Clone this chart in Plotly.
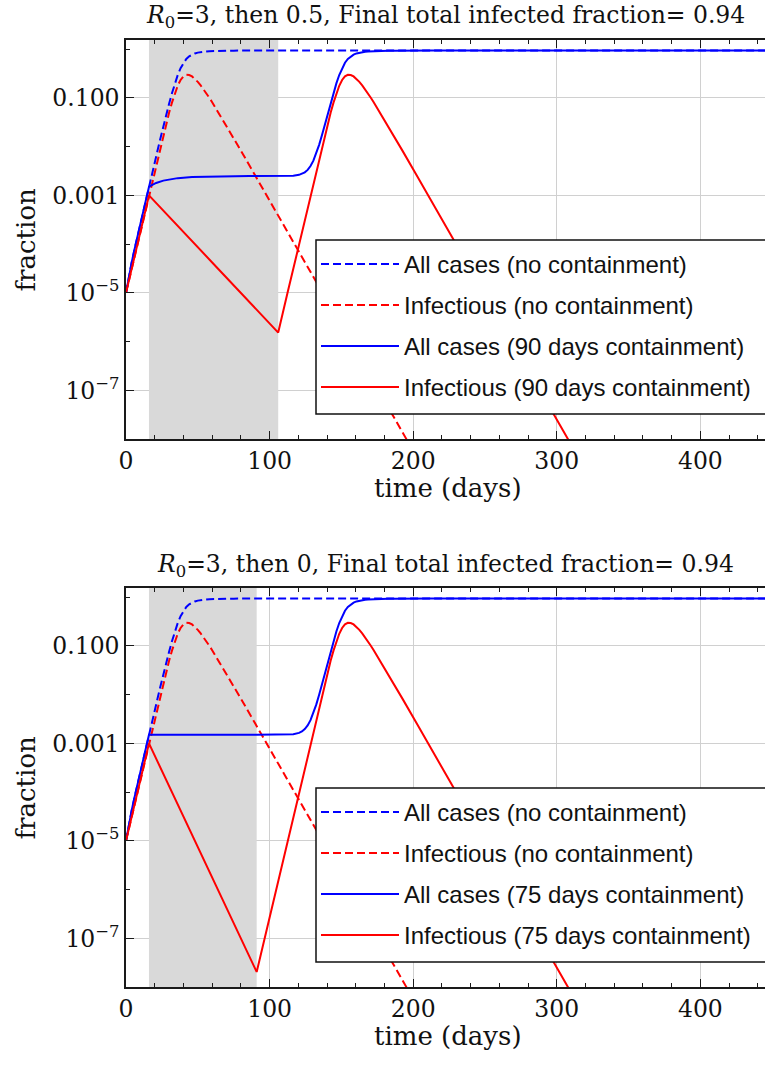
import plotly.graph_objects as go

# ---------------- data ----------------
# containment windows (days)
contain_top = [16, 106]
contain_bottom = [16, 91]

# no containment: all cases
t_cases_nc = [0, 2, 4, 6, 8, 10, 12, 14, 16, 18, 20, 22, 24, 26, 28, 30, 32, 34, 36, 38, 40,
              42, 44, 46, 48, 50, 52, 54, 56, 58, 60, 65, 70, 75, 80, 90, 100, 450]
cases_nc = [1.0e-5, 2.17e-5, 4.25e-5, 7.94e-5, 1.45e-4, 2.62e-4, 4.70e-4, 8.41e-4, 1.50e-3,
            2.67e-3, 4.75e-3, 8.43e-3, 0.0149, 0.0264, 0.0463, 0.0760, 0.1246, 0.1967, 0.2941,
            0.4099, 0.5282, 0.6329, 0.7158, 0.7773, 0.8215, 0.8530, 0.8755, 0.8917, 0.9035,
            0.9122, 0.9188, 0.9291, 0.9344, 0.9372, 0.9387, 0.9400, 0.9404, 0.9405]

# no containment: infectious
t_inf_nc = [0, 8, 16, 24, 26, 28, 30, 32, 34, 36, 38, 40, 42, 44, 46, 48, 50, 52, 54, 56, 58,
            60, 65, 70, 75, 80, 90, 100, 110, 120, 130, 140, 150, 160, 170, 180, 190, 200]
inf_nc = [1.0e-5, 1.0e-4, 1.0e-3, 9.96e-3, 0.01755, 0.0306, 0.0497, 0.0802, 0.1237, 0.178,
          0.2341, 0.2778, 0.2989, 0.2964, 0.2767, 0.2471, 0.2139, 0.181, 0.1508, 0.1241,
          0.1013, 0.082, 0.0468, 0.0266, 0.0149, 0.0083, 2.55e-3, 7.81e-4, 2.39e-4, 7.33e-5,
          2.25e-5, 6.89e-6, 2.11e-6, 6.47e-7, 1.98e-7, 6.07e-8, 1.86e-8, 5.7e-9]

# 90 days containment (R0=3, then 0.5)
t_cases_90 = [0, 2, 4, 6, 8, 10, 12, 14, 16, 18, 21, 26, 31, 36, 46, 56, 66, 76, 86, 106,
              112.5, 116.5, 120.5, 122.5, 124.5, 126.5, 128.5, 130.5, 132.5, 134.5, 136.5,
              138.5, 140.5, 142.5, 144.5, 146.5, 148.5, 150.5, 152.5, 154.5, 156.5, 158.5,
              160.5, 162.5, 164.5, 166.5, 168.5, 170.5, 172.5, 177.5, 182.5, 187.5, 192.5,
              202.5, 212.5, 450]
cases_90 = [1.0e-5, 2.17e-5, 4.25e-5, 7.94e-5, 1.45e-4, 2.62e-4, 4.70e-4, 8.41e-4, 1.50e-3,
            1.634e-3, 1.802e-3, 2.013e-3, 2.160e-3, 2.263e-3, 2.385e-3, 2.444e-3, 2.473e-3,
            2.487e-3, 2.494e-3, 2.499e-3, 2.51e-3, 2.54e-3, 2.645e-3, 2.76e-3, 2.97e-3,
            3.34e-3, 4.0e-3, 5.17e-3, 7.25e-3, 0.0109, 0.0174, 0.0289, 0.0488, 0.0785, 0.127,
            0.199, 0.296, 0.411, 0.529, 0.634, 0.716, 0.777, 0.8215, 0.853, 0.8755, 0.8917,
            0.9035, 0.9122, 0.9188, 0.9285, 0.9344, 0.9372, 0.9387, 0.9400, 0.9404, 0.9405]

t_inf_90 = [0, 16, 61, 106, 112.5, 120.5, 128.5, 136.5, 138.5, 140.5, 142.5, 144.5, 146.5,
            148.5, 150.5, 152.5, 154.5, 156.5, 158.5, 160.5, 162.5, 164.5, 166.5, 168.5,
            170.5, 172.5, 177.5, 182.5, 187.5, 192.5, 202.5, 212.5, 222.5, 232.5, 242.5,
            252.5, 262.5, 272.5, 282.5, 292.5, 302.5, 312.5]
inf_90 = [1.0e-5, 1.0e-3, 3.92e-5, 1.53e-6, 1.0e-5, 1.0e-4, 1.0e-3, 9.96e-3, 0.01755, 0.0306,
          0.0497, 0.0802, 0.1237, 0.178, 0.2341, 0.2778, 0.2989, 0.2964, 0.2767, 0.2471,
          0.2139, 0.181, 0.1508, 0.1241, 0.1013, 0.082, 0.0468, 0.0266, 0.0149, 0.0083,
          2.55e-3, 7.81e-4, 2.39e-4, 7.33e-5, 2.25e-5, 6.89e-6, 2.11e-6, 6.47e-7, 1.98e-7,
          6.07e-8, 1.86e-8, 5.7e-9]

# 75 days containment (R0=3, then 0)
t_cases_75 = [0, 2, 4, 6, 8, 10, 12, 14, 16, 91, 112.5, 116.5, 120.5, 122.5, 124.5, 126.5,
              128.5, 130.5, 132.5, 134.5, 136.5, 138.5, 140.5, 142.5, 144.5, 146.5, 148.5,
              150.5, 152.5, 154.5, 156.5, 158.5, 160.5, 162.5, 164.5, 166.5, 168.5, 170.5,
              172.5, 177.5, 182.5, 187.5, 192.5, 202.5, 212.5, 450]
cases_75 = [1.0e-5, 2.17e-5, 4.25e-5, 7.94e-5, 1.45e-4, 2.62e-4, 4.70e-4, 8.41e-4, 1.50e-3,
            1.50e-3, 1.51e-3, 1.54e-3, 1.645e-3, 1.76e-3, 1.97e-3, 2.34e-3, 3.0e-3, 4.17e-3,
            6.25e-3, 9.93e-3, 0.0164, 0.0279, 0.0478, 0.0775, 0.126, 0.198, 0.2956, 0.410,
            0.528, 0.633, 0.716, 0.777, 0.8215, 0.853, 0.8755, 0.8917, 0.9035, 0.9122, 0.9188,
            0.9285, 0.9344, 0.9372, 0.9387, 0.9400, 0.9404, 0.9405]

t_inf_75 = [0, 16, 91, 112.5, 120.5, 128.5, 136.5, 138.5, 140.5, 142.5, 144.5, 146.5,
            148.5, 150.5, 152.5, 154.5, 156.5, 158.5, 160.5, 162.5, 164.5, 166.5, 168.5,
            170.5, 172.5, 177.5, 182.5, 187.5, 192.5, 202.5, 212.5, 222.5, 232.5, 242.5,
            252.5, 262.5, 272.5, 282.5, 292.5, 302.5, 312.5]
inf_75 = [1.0e-5, 1.0e-3, 2.04e-8, 1.0e-5, 1.0e-4, 1.0e-3, 9.96e-3, 0.01755, 0.0306,
          0.0497, 0.0802, 0.1237, 0.178, 0.2341, 0.2778, 0.2989, 0.2964, 0.2767, 0.2471,
          0.2139, 0.181, 0.1508, 0.1241, 0.1013, 0.082, 0.0468, 0.0266, 0.0149, 0.0083,
          2.55e-3, 7.81e-4, 2.39e-4, 7.33e-5, 2.25e-5, 6.89e-6, 2.11e-6, 6.47e-7, 1.98e-7,
          6.07e-8, 1.86e-8, 5.7e-9]

x_ticks = [0, 100, 200, 300, 400]
y_ticks = [1e-7, 1e-5, 1e-3, 1e-1]
y_ticktext = ["10<sup>\u22127</sup>", "10<sup>\u22125</sup>", "0.001", "0.100"]
y_minor = [1e-8, 1e-6, 1e-4, 1e-2, 1]
y_limits = [1e-8, 1.549]

titles = ["<i>R</i><sub>0</sub>=3, then 0.5, Final total infected fraction= 0.94",
          "<i>R</i><sub>0</sub>=3, then 0, Final total infected fraction= 0.94"]
names_top = ["All cases (no containment)", "Infectious (no containment)",
             "All cases (90 days containment)", "Infectious (90 days containment)"]
names_bottom = ["All cases (no containment)", "Infectious (no containment)",
                "All cases (75 days containment)", "Infectious (75 days containment)"]

# ---------------- styling ----------------
SERIF = "DejaVu Serif"
SANS = "Liberation Sans"
BLUE = "#0000ff"
RED = "#ff0000"
AX = "#1a1a1a"
GRID = "#d0d0d0"
SHADE = "#d9d9d9"
DASH = "8px,4px"

W, H = 765, 1067
ML, MR, MT, MB = 126, 0, 40, 80
PH = H - MT - MB


def py(pix):
    return (H - MB - pix) / PH


def px(pix):
    return (pix - ML) / (W - ML - MR)


fig = go.Figure()
legends = {}
PANEL_SHIFT = 548          # vertical pixel offset between the two panels
ROW_TOP = [242, 283, 324, 365]   # pixel tops of the four legend rows (top panel)


def add(x, y, color, dash, name, xa, ya, panel, row):
    key = "legend" if (panel == 0 and row == 0) else "legend%d" % (panel * 4 + row + 1)
    fig.add_trace(go.Scatter(
        x=x, y=y, mode="lines", name=name, xaxis=xa, yaxis=ya, legend=key,
        line=dict(color=color, width=2, dash=dash), hoverinfo="skip"))
    legends[key] = dict(
        x=px(316), y=py(ROW_TOP[row] + panel * PANEL_SHIFT), xanchor="left",
        yanchor="top", bgcolor="rgba(0,0,0,0)", borderwidth=0, itemwidth=78,
        font=dict(family=SANS, size=24, color="#111"))


add(t_cases_nc, cases_nc, BLUE, DASH, names_top[0], "x", "y", 0, 0)
add(t_inf_nc, inf_nc, RED, DASH, names_top[1], "x", "y", 0, 1)
add(t_cases_90, cases_90, BLUE, "solid", names_top[2], "x", "y", 0, 2)
add(t_inf_90, inf_90, RED, "solid", names_top[3], "x", "y", 0, 3)

add(t_cases_nc, cases_nc, BLUE, DASH, names_bottom[0], "x2", "y2", 1, 0)
add(t_inf_nc, inf_nc, RED, DASH, names_bottom[1], "x2", "y2", 1, 1)
add(t_cases_75, cases_75, BLUE, "solid", names_bottom[2], "x2", "y2", 1, 2)
add(t_inf_75, inf_75, RED, "solid", names_bottom[3], "x2", "y2", 1, 3)

xaxis_common = dict(
    range=[0, 445], tickmode="array", tickvals=x_ticks, ticks="inside", ticklen=8,
    tickwidth=1.3, tickcolor=AX, showline=True, linecolor=AX, linewidth=1.5,
    mirror="ticks", showgrid=True, gridcolor=GRID, gridwidth=1, zeroline=False,
    tickfont=dict(family=SERIF, size=23.5, color="#111"),
    minor=dict(dtick=20, tick0=0, ticks="inside", ticklen=4, tickwidth=1.2,
               tickcolor=AX, showgrid=False),
)
yaxis_common = dict(
    type="log", range=[-8.0, 0.19], tickmode="array", tickvals=y_ticks,
    ticktext=y_ticktext, ticks="inside", ticklen=8, tickwidth=1.3, tickcolor=AX,
    showline=True, linecolor=AX, linewidth=1.5, mirror=False, showgrid=True,
    gridcolor=GRID, gridwidth=1, zeroline=False,
    tickfont=dict(family=SERIF, size=23.5, color="#111"),
    minor=dict(tickmode="array", tickvals=y_minor, ticks="inside", ticklen=4,
               tickwidth=1.2, tickcolor=AX, showgrid=False),
)

top_dom = [py(439), 1.0]
bot_dom = [0.0, py(588)]

shapes = [
    dict(type="rect", xref="x", yref="y", x0=contain_top[0], x1=contain_top[1],
         y0=y_limits[0], y1=y_limits[1], fillcolor=SHADE, line=dict(width=0),
         layer="between"),
    dict(type="rect", xref="x2", yref="y2", x0=contain_bottom[0],
         x1=contain_bottom[1], y0=y_limits[0], y1=y_limits[1], fillcolor=SHADE,
         line=dict(width=0), layer="between"),
]
# legend frames (run past the right edge of the picture, as in the reference)
for p in range(2):
    shapes.append(dict(type="rect", xref="paper", yref="paper", x0=px(316), x1=px(790),
                       y0=py(414 + p * PANEL_SHIFT), y1=py(240 + p * PANEL_SHIFT),
                       fillcolor="white", line=dict(color="#111", width=1.5),
                       layer="above"))

annotations = [
    dict(text=titles[0], xref="paper", yref="paper", x=0.5, y=py(16),
         xanchor="center", yanchor="middle", showarrow=False,
         font=dict(family=SERIF, size=23.5, color="#111")),
    dict(text=titles[1], xref="paper", yref="paper", x=0.5, y=py(565),
         xanchor="center", yanchor="middle", showarrow=False,
         font=dict(family=SERIF, size=23.5, color="#111")),
]
for p in range(2):
    annotations.append(dict(text="fraction", xref="paper", yref="paper", x=px(25),
                            y=py(239.5 + p * PANEL_SHIFT), xanchor="center",
                            yanchor="middle", showarrow=False, textangle=-90,
                            font=dict(family=SERIF, size=26, color="#111")))
    annotations.append(dict(text="time (days)", xref="paper", yref="paper", x=px(448),
                            y=py(488 + p * PANEL_SHIFT), xanchor="center",
                            yanchor="middle", showarrow=False,
                            font=dict(family=SERIF, size=26, color="#111")))

fig.update_layout(
    width=W, height=H, margin=dict(l=ML, r=MR, t=MT, b=MB, pad=0),
    paper_bgcolor="white", plot_bgcolor="white", showlegend=True,
    xaxis=dict(xaxis_common, anchor="y", domain=[0, 1]),
    yaxis=dict(yaxis_common, anchor="x", domain=top_dom),
    xaxis2=dict(xaxis_common, anchor="y2", domain=[0, 1]),
    yaxis2=dict(yaxis_common, anchor="x2", domain=bot_dom),
    shapes=shapes,
    annotations=annotations,
    **legends,
)

fig.write_html("out.html")
